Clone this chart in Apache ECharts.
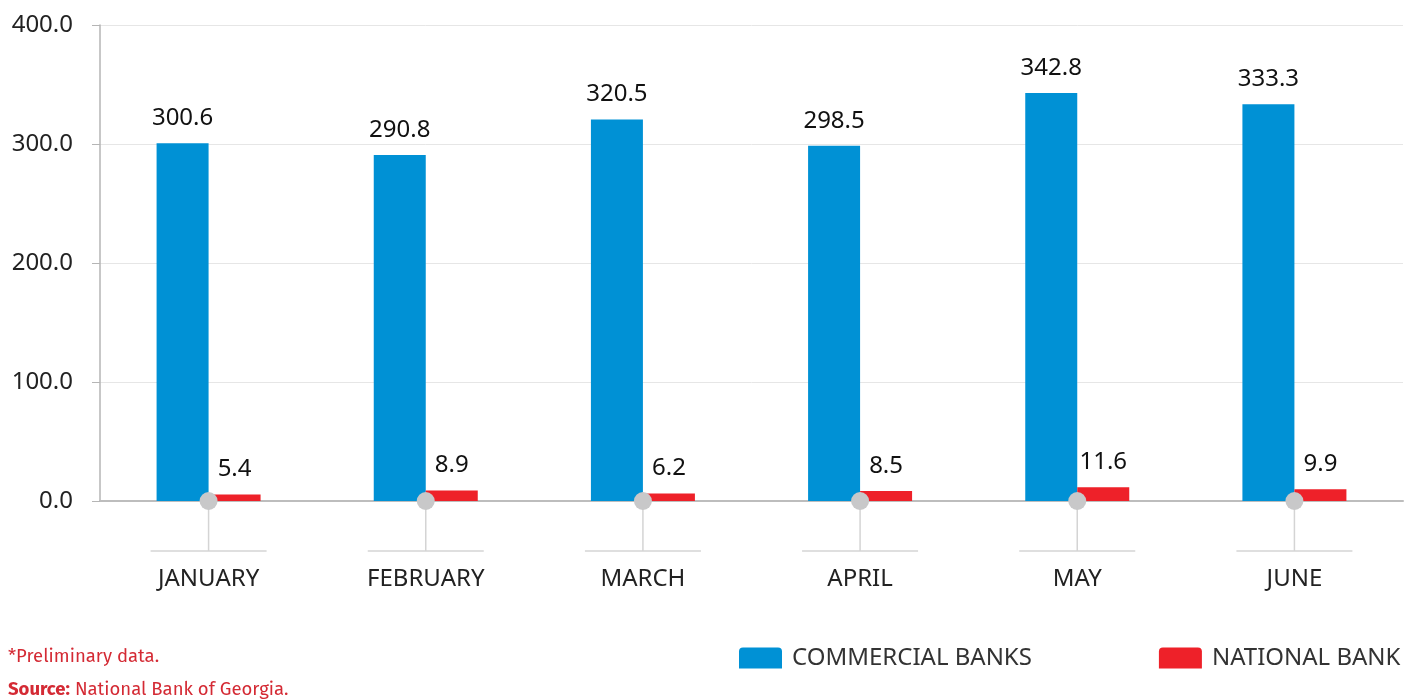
<!DOCTYPE html>
<html>
<head>
<meta charset="utf-8">
<script src="https://cdn.jsdelivr.net/npm/echarts@6/dist/echarts.min.js"></script>
<style>
html,body{margin:0;padding:0;background:#fff;}
#chart{width:1408px;height:699px;position:relative;}
.note{position:absolute;left:8px;font-family:"Fira Sans","Noto Sans",sans-serif;font-size:18.5px;color:#d42a34;white-space:nowrap;}
</style>
</head>
<body>
<div id="chart"></div>
<div class="note" style="top:645px;">*Preliminary data.</div>
<div class="note" style="top:678px;"><b>Source:</b> National Bank of Georgia.</div>
<script>
const categories = ['JANUARY', 'FEBRUARY', 'MARCH', 'APRIL', 'MAY', 'JUNE'];
const commercialBanks = [300.6, 290.8, 320.5, 298.5, 342.8, 333.3];
const nationalBank = [5.4, 8.9, 6.2, 8.5, 11.6, 9.9];
const yTicks = [0, 100, 200, 300, 400];

const FONT = '"Noto Sans", sans-serif';
const chart = echarts.init(document.getElementById('chart'));
const labelStyle = {
  show: true, position: 'top', distance: 13,
  fontSize: 24, color: '#111', fontFamily: FONT,
  formatter: p => p.value.toFixed(1)
};
chart.setOption({
  animation: false,
  grid: {left: 100, right: 5, top: 25, bottom: 198},
  legend: {
    left: 734, top: 641,
    itemWidth: 43, itemHeight: 21, itemGap: 127,
    icon: 'path://M4,0 L39,0 Q43,0 43,4 L43,21 L0,21 L0,4 Q0,0 4,0 Z',
    textStyle: {fontSize: 24, color: '#333', fontFamily: FONT, padding: [0, 0, 0, 5]},
    data: ['COMMERCIAL BANKS', 'NATIONAL BANK']
  },
  xAxis: {
    type: 'category', data: categories,
    axisLine: {lineStyle: {color: '#bdbdbd', width: 2}},
    axisTick: {show: false},
    axisLabel: {margin: 66, fontSize: 24, color: '#222', fontFamily: FONT}
  },
  yAxis: {
    type: 'value', min: 0, max: 400, interval: 100,
    axisLine: {show: true, lineStyle: {color: '#b5b5b5', width: 1.5}},
    axisTick: {show: true, length: 8, lineStyle: {color: '#b5b5b5'}},
    splitLine: {lineStyle: {color: '#e6e6e6', width: 1}},
    axisLabel: {margin: 27, fontSize: 24, color: '#222', fontFamily: FONT,
      formatter: v => yTicks.includes(v) ? v.toFixed(1) : ''}
  },
  series: [
    {name: 'COMMERCIAL BANKS', type: 'bar', data: commercialBanks, barWidth: 52, barGap: '0%',
      itemStyle: {color: '#0091d5'}, label: labelStyle},
    {name: 'NATIONAL BANK', type: 'bar', data: nationalBank, barWidth: 52,
      itemStyle: {color: '#ee2129'}, label: labelStyle},
    {name: 'decor', type: 'custom', clip: false, z: 10, silent: true,
      data: categories.map((c, i) => [i, 0]),
      renderItem: (params, api) => {
        const p = api.coord([api.value(0), 0]);
        return {type: 'group', children: [
          {type: 'line', shape: {x1: p[0], y1: p[1], x2: p[0], y2: p[1] + 50}, style: {stroke: '#d4d4d4', lineWidth: 1.5}},
          {type: 'line', shape: {x1: p[0] - 58, y1: p[1] + 50, x2: p[0] + 58, y2: p[1] + 50}, style: {stroke: '#d4d4d4', lineWidth: 1.5}},
          {type: 'circle', shape: {cx: p[0], cy: p[1], r: 9}, style: {fill: '#c8c8c9'}}
        ]};
      }
    }
  ]
});
</script>
</body>
</html>
